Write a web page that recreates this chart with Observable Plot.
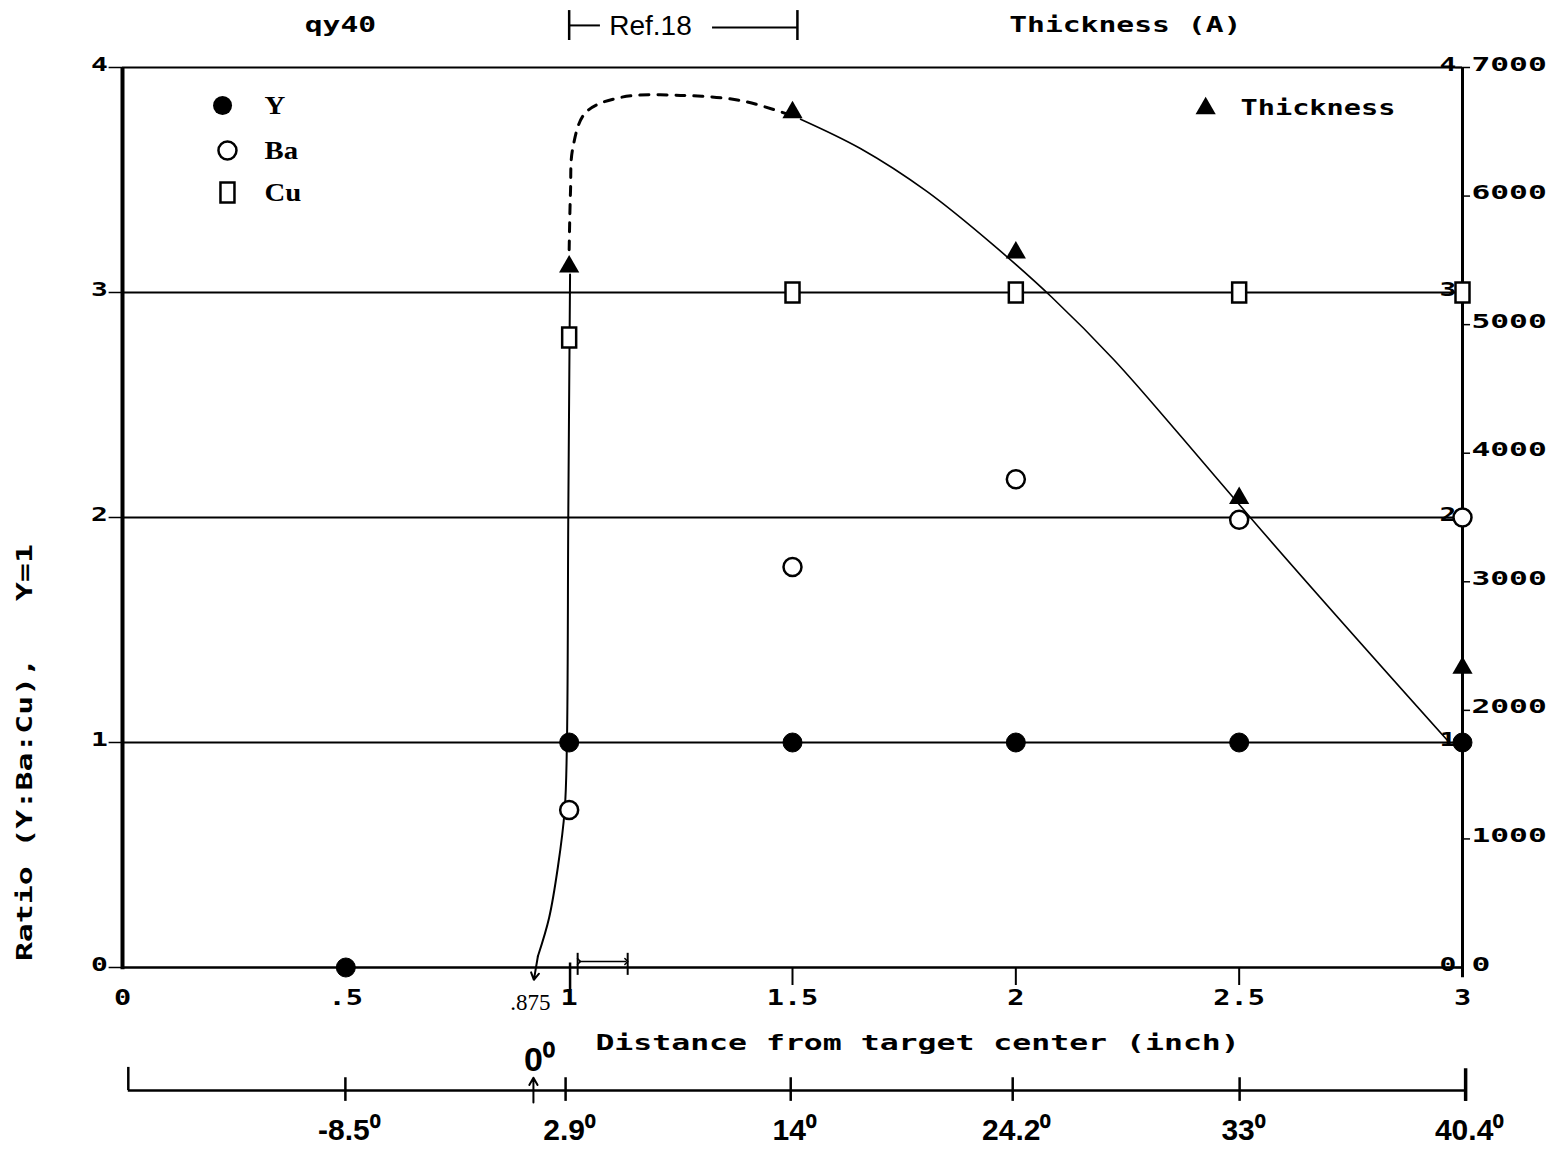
<!DOCTYPE html>
<html>
<head>
<meta charset="utf-8">
<script src="https://cdn.jsdelivr.net/npm/d3@7"></script>
<script src="https://cdn.jsdelivr.net/npm/@observablehq/plot@0.6"></script>
<style>
  body { margin: 0; background: #fff; }
  #chart svg { background: #fff; }
</style>
</head>
<body>
<div id="chart"></div>
<script>
// ---- measured composition ratios (Y normalised to 1) vs distance from target centre (inch)
const yDist  = [0.5, 1, 1.5, 2, 2.5, 3];
const yRatio = [0, 1, 1, 1, 1, 1];

const baDist  = [1, 1.5, 2, 2.5, 3];
const baRatio = [0.70, 1.78, 2.17, 1.99, 2.00];

const cuDist  = [1, 1.5, 2, 2.5, 3];
const cuRatio = [2.80, 3.00, 3.00, 3.00, 3.00];

// ---- film thickness (Angstrom), right-hand axis
const thDist    = [1, 1.5, 2, 2.5, 3];
const thickness = [5450, 6650, 5560, 3650, 2330];

// hand-drawn thickness trend: dashed part (Ref. 18 region) and solid part
const trendDashDist = [1.0, 1.003, 1.008, 1.037, 1.115, 1.249, 1.384, 1.484];
const trendDashTh   = [5583, 6038, 6370, 6650, 6767, 6783, 6743, 6643];
const trendDist = [1.518, 1.652, 1.80, 1.95, 2.08, 2.22, 2.37, 2.525, 2.966];
const trendTh   = [6598, 6370, 6038, 5618, 5215, 4725, 4130, 3500, 1768];

// edge-of-deposit guide line at 1 inch, bending down to .875 inch
const edgeDist  = [1.002, 0.998, 0.995, 0.99, 0.975, 0.955, 0.93];
const edgeRatio = [3.08, 2.0, 1.0, 0.70, 0.45, 0.22, 0.05];

// ---- axes
const xTicks      = [0, 0.5, 1, 1.5, 2, 2.5, 3];
const xTickLabels = ["0", ".5", "1", "1.5", "2", "2.5", "3"];
const ratioTicks  = [0, 1, 2, 3, 4];
const gridRatios  = [1, 2, 3];
const thickTicks  = [0, 1000, 2000, 3000, 4000, 5000, 6000, 7000];
const thickTickLabels = ["0", "1000", "2000", "3000", "4000", "5000", "6000", "7000"];

// deposition angle scale under the distance axis
const angleDist   = [0.499, 0.992, 1.496, 1.993, 2.501, 3.007];
const angleLabels = ["-8.5", "2.9", "14", "24.2", "33", "40.4"];

// thickness (A) -> ratio-axis units: 7000 A spans the 0..4 ratio range
const T = v => v * 4 / 7000;

const zip = (xs, ys) => xs.map((x, i) => ({x, y: ys[i]}));

// tall rectangle symbol for Cu
const rectSymbol = {
  draw(ctx, size) {
    const r = Math.sqrt(size / Math.PI);
    const w = 0.7 * r, h = r;
    ctx.moveTo(-w, -h); ctx.lineTo(w, -h); ctx.lineTo(w, h); ctx.lineTo(-w, h); ctx.closePath();
  }
};

// font sizes double as keys for the horizontal stretch applied after rendering
const FS = {ratio: 20, thick: 20.2, xlab: 22, title: 21, head: 21.2, legMono: 22, legSerif: 25};
const MONO = "DejaVu Sans Mono";
const mono = (size) => ({fontFamily: MONO, fontWeight: "bold", fontSize: size, fill: "black"});

const chart = Plot.plot({
  width: 1560,
  height: 1162,
  marginLeft: 122,
  marginRight: 98,
  marginTop: 67,
  marginBottom: 195,
  x: {domain: [0, 3], axis: null},
  y: {domain: [0, 4], axis: null},
  style: {background: "white", overflow: "visible"},
  marks: [
    // grid and frame
    Plot.ruleY(gridRatios, {x1: 0, x2: 3, stroke: "black", strokeWidth: 2}),
    Plot.ruleY([0], {x1: 0, x2: 3, stroke: "black", strokeWidth: 2.5}),
    Plot.ruleY([4], {x1: 0, x2: 3, stroke: "black", strokeWidth: 2}),
    Plot.ruleX([0], {y1: -0.01, y2: 4, stroke: "black", strokeWidth: 4}),
    Plot.ruleX([3], {y1: -0.045, y2: 4, stroke: "black", strokeWidth: 3}),

    // small tick dashes
    Plot.ruleY(ratioTicks, {x1: -0.03, x2: 0, stroke: "black", strokeWidth: 1.5}),
    Plot.ruleY(ratioTicks, {x1: 2.985, x2: 3, stroke: "black", strokeWidth: 1.5}),
    Plot.ruleY(thickTicks.slice(1), {y: d => T(d), x1: 3, x2: 3.018, stroke: "black", strokeWidth: 1.5}),
    Plot.ruleX([1.5, 2, 2.5], {y1: 0, y2: -0.08, stroke: "black", strokeWidth: 2}),
    Plot.ruleX([1.002], {y1: 0.02, y2: -0.1, stroke: "black", strokeWidth: 2.5}),

    // edge guide and its arrow to .875
    Plot.line(zip(edgeDist, edgeRatio), {x: "x", y: "y", curve: "catmull-rom", stroke: "black", strokeWidth: 2}),
    Plot.arrow([{x1: 0.93, y1: 0.05, x2: 0.921, y2: -0.055}], {x1: "x1", y1: "y1", x2: "x2", y2: "y2", stroke: "black", strokeWidth: 2, headLength: 14}),

    // thickness trend
    Plot.line(zip(trendDashDist, trendDashTh), {x: "x", y: d => T(d.y), curve: "catmull-rom", stroke: "black", strokeWidth: 3, strokeDasharray: "9,9"}),
    Plot.line(zip(trendDist, trendTh), {x: "x", y: d => T(d.y), curve: "monotone-x", stroke: "black", strokeWidth: 1.6}),

    // interval bracket just above the axis near 1 inch
    Plot.ruleX([1.019, 1.131], {y1: -0.035, y2: 0.063, stroke: "black", strokeWidth: 2}),
    Plot.link([{x1: 1.022, x2: 1.128}], {x1: "x1", x2: "x2", y1: 0.027, y2: 0.027, stroke: "black", strokeWidth: 1.5, markerStart: "arrow", markerEnd: "arrow"}),

    // data points
    Plot.dot(zip(cuDist, cuRatio), {x: "x", y: "y", symbol: rectSymbol, r: 10, fill: "white", stroke: "black", strokeWidth: 2.5}),
    Plot.dot(zip(baDist, baRatio), {x: "x", y: "y", symbol: "circle", r: 9, fill: "white", stroke: "black", strokeWidth: 2.5}),
    Plot.dot(zip(yDist, yRatio), {x: "x", y: "y", symbol: "circle", r: 9.5, fill: "black", stroke: "black", strokeWidth: 1}),
    Plot.dot(zip(thDist, thickness), {x: "x", y: d => T(d.y), symbol: "triangle", r: 7.5, fill: "black"}),

    // legend (top left)
    Plot.dot([{x: 0.224, y: 3.831}], {x: "x", y: "y", symbol: "circle", r: 9.5, fill: "black"}),
    Plot.dot([{x: 0.235, y: 3.631}], {x: "x", y: "y", symbol: "circle", r: 9, fill: "white", stroke: "black", strokeWidth: 2.5}),
    Plot.dot([{x: 0.235, y: 3.444}], {x: "x", y: "y", symbol: rectSymbol, r: 10, fill: "white", stroke: "black", strokeWidth: 2.5}),
    Plot.text([{x: 0.318, y: 3.831, t: "Y"}, {x: 0.318, y: 3.631, t: "Ba"}, {x: 0.318, y: 3.444, t: "Cu"}],
      {x: "x", y: "y", text: "t", textAnchor: "start", fontFamily: "Liberation Serif", fontWeight: "bold", fontSize: FS.legSerif, fill: "black"}),

    // legend (top right)
    Plot.dot([{x: 2.425, y: 3.818}], {x: "x", y: "y", symbol: "triangle", r: 7.5, fill: "black"}),
    Plot.text([{x: 2.503, y: 3.818, t: "Thickness"}], {x: "x", y: "y", text: "t", textAnchor: "start", ...mono(FS.legMono)}),

    // left ratio labels and their repeat inside the right axis
    Plot.text(ratioTicks, {x: -0.033, y: d => d, text: d => String(d), textAnchor: "end", lineAnchor: "bottom", dy: 3, ...mono(FS.ratio)}),
    Plot.text(ratioTicks, {x: 2.986, y: d => d, text: d => String(d), textAnchor: "end", lineAnchor: "bottom", dy: 3, ...mono(FS.ratio)}),

    // thickness labels (right)
    Plot.text(thickTicks, {x: 3.02, y: d => T(d), text: (d, i) => thickTickLabels[i], textAnchor: "start", lineAnchor: "bottom", dy: 3, ...mono(FS.thick)}),

    // distance labels
    Plot.text(xTicks, {x: d => d, y: -0.135, text: (d, i) => xTickLabels[i], lineAnchor: "middle", ...mono(FS.xlab)}),
    Plot.text([".875"], {x: 0.913, y: -0.155, text: d => d, lineAnchor: "middle", fontFamily: "Liberation Serif", fontSize: 23, fill: "black"}),
    Plot.text(["Distance from target center (inch)"], {x: 1.78, y: -0.338, text: d => d, lineAnchor: "middle", ...mono(FS.title)}),

    // vertical title
    Plot.text(["Ratio (Y:Ba:Cu),   Y=1"], {x: -0.217, y: 0.955, text: d => d, rotate: -90, lineAnchor: "middle", ...mono(FS.title)}),

    // header labels
    Plot.text(["qy40"], {x: 0.488, y: 4.187, text: d => d, lineAnchor: "middle", ...mono(FS.head)}),
    Plot.text(["Thickness (A)"], {x: 2.245, y: 4.187, text: d => d, lineAnchor: "middle", ...mono(FS.head)}),
    Plot.text(["Ref.18"], {x: 1.182, y: 4.185, text: d => d, lineAnchor: "middle", fontFamily: "Liberation Sans", fontSize: 28, fill: "black"}),
    Plot.ruleX([1.0, 1.511], {y1: 4.12, y2: 4.253, stroke: "black", strokeWidth: 2.5}),
    Plot.ruleY([4.187], {x1: 1.0, x2: 1.07, stroke: "black", strokeWidth: 2}),
    Plot.ruleY([4.178], {x1: 1.321, x2: 1.511, stroke: "black", strokeWidth: 2}),

    // deposition angle scale
    Plot.ruleY([-0.547], {x1: 0.013, x2: 3.007, stroke: "black", strokeWidth: 2.5}),
    Plot.ruleX([0.013], {y1: -0.444, y2: -0.547, stroke: "black", strokeWidth: 2.5}),
    Plot.ruleX(angleDist, {y1: -0.49, y2: -0.595, stroke: "black", strokeWidth: 2.5}),
    Plot.ruleX([3.007], {y1: -0.45, y2: -0.595, stroke: "black", strokeWidth: 3.5}),
    Plot.arrow([{x: 0.92}], {x1: "x", x2: "x", y1: -0.6, y2: -0.49, stroke: "black", strokeWidth: 2, headLength: 9}),
    Plot.text(angleDist, {x: d => d, y: -0.724, text: (d, i) => angleLabels[i] + "\u2070", lineAnchor: "middle", dx: 4,
      fontFamily: "Liberation Sans", fontWeight: "bold", fontSize: 30, fill: "black"}),
    Plot.text(["0\u2070"], {x: 0.92, y: -0.41, text: d => d, lineAnchor: "middle", dx: 6,
      fontFamily: "Liberation Sans", fontWeight: "bold", fontSize: 34, fill: "black"})
  ]
});

document.getElementById("chart").appendChild(chart);

// the dot-matrix style lettering is much wider than a normal monospace face
const widen = new Map([
  [FS.legSerif, 1.15],
  [FS.legMono, 1.43],
  [FS.ratio, 1.4],
  [FS.thick, 1.55],
  [FS.xlab, 1.3],
  [FS.title, 1.5],
  [FS.head, 1.4]
]);
chart.querySelectorAll("g[font-size]").forEach(g => {
  const s = widen.get(+g.getAttribute("font-size"));
  if (!s) return;
  g.querySelectorAll("text").forEach(el => {
    const t = el.getAttribute("transform");
    if (t) {
      el.setAttribute("transform", `${t} scale(${s},1)`);
    } else {
      const x = +el.getAttribute("x") || 0, y = +el.getAttribute("y") || 0;
      el.removeAttribute("x"); el.removeAttribute("y");
      el.setAttribute("transform", `translate(${x},${y}) scale(${s},1)`);
    }
  });
});
</script>
</body>
</html>
